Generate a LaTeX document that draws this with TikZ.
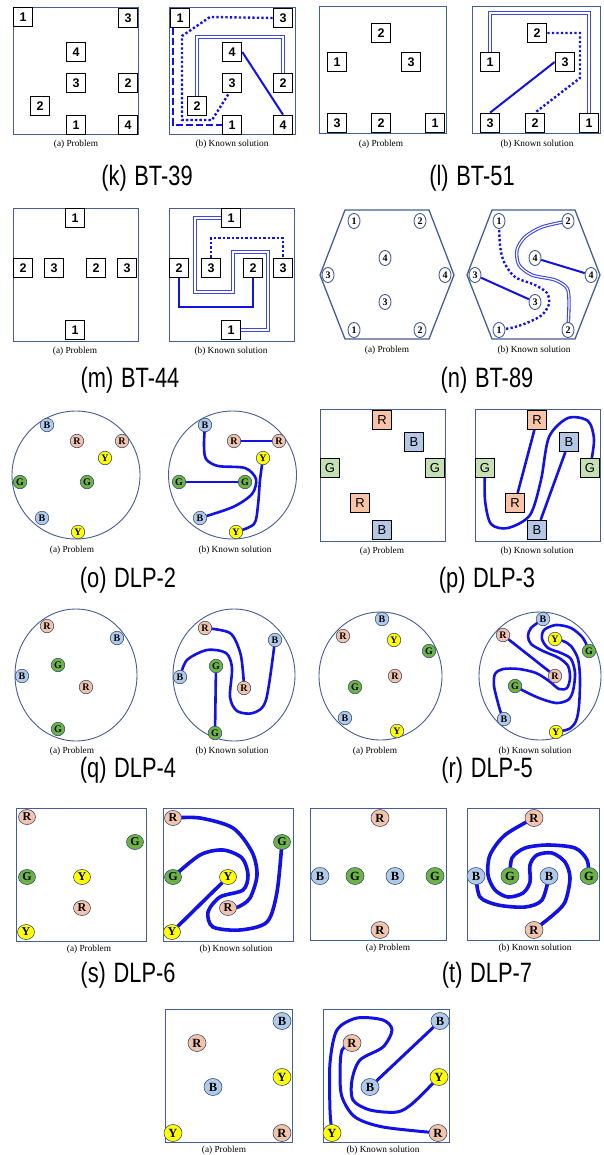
\documentclass[tikz,border=0pt]{standalone}
\usepackage{graphicx}
\usepackage{fontspec}
\setmainfont{Liberation Serif}
\setsansfont{Liberation Sans}
\usetikzlibrary{shapes.geometric}
\definecolor{frameC}{RGB}{68,94,150}
\definecolor{nodeC}{RGB}{60,80,120}
\definecolor{lineC}{RGB}{18,18,230}
\definecolor{dblC}{RGB}{60,70,235}
\definecolor{peach}{RGB}{244,196,170}
\definecolor{lblue}{RGB}{176,202,234}
\definecolor{grn}{RGB}{108,180,68}
\definecolor{yel}{RGB}{255,255,0}
\definecolor{sqR}{RGB}{248,196,168}
\definecolor{sqB}{RGB}{180,199,231}
\definecolor{sqG}{RGB}{197,224,180}
\pgfdeclarelayer{bg}
\pgfdeclarelayer{mid}
\pgfsetlayers{bg,mid,main}
\tikzset{
  frame/.style={draw=frameC, line width=0.9pt},
  sq/.style={draw=black, line width=1.6pt, fill=white, minimum size=19pt, inner sep=0pt, font=\fontsize{12.5}{12.5}\selectfont\sffamily\bfseries},
  capt/.style={font=\fontsize{9.3}{10}\selectfont\rmfamily, inner sep=0pt},
  ttl/.style={font=\fontsize{28}{28}\selectfont\sffamily, inner sep=0pt},
  cn/.style={ellipse, draw=nodeC, line width=0.6pt, minimum width=13.5pt, minimum height=13.5pt, inner sep=0pt, font=\fontsize{10}{10}\selectfont\bfseries\rmfamily},
  bn/.style={cn, minimum width=17pt, minimum height=15pt, font=\fontsize{12}{12}\selectfont\bfseries\rmfamily},
  un/.style={cn, minimum width=18pt, minimum height=17pt, font=\fontsize{12.5}{12.5}\selectfont\bfseries\rmfamily},
  hn/.style={cn, draw=frameC, line width=0.9pt, fill=white, minimum width=12pt, minimum height=15pt, font=\fontsize{10}{10}\selectfont\bfseries\rmfamily},
  nR/.style={fill=peach}, nB/.style={fill=lblue}, nG/.style={fill=grn}, nY/.style={fill=yel},
  sR/.style={sq, fill=sqR, font=\fontsize{13}{13}\selectfont\sffamily}, sB/.style={sq, fill=sqB, font=\fontsize{13}{13}\selectfont\sffamily}, sG/.style={sq, fill=sqG, font=\fontsize{13}{13}\selectfont\sffamily},
  wire/.style={draw=lineC, line width=2pt},
  fat/.style={draw=lineC, line width=2.6pt, line cap=round},
  fatter/.style={draw=lineC, line width=3.6pt, line cap=round},
  dotw/.style={draw=lineC, line width=2.4pt, dash pattern=on 2.3pt off 2.2pt},
  dashw/.style={draw=lineC, line width=2.6pt, dash pattern=on 7pt off 3pt},
  dbl/.style={draw=dblC, double=white, line width=1.1pt, double distance=1.2pt},
}
\newcommand{\ttltext}[2]{\scalebox{0.78}[1]{(#1)\hspace{0.35em}#2}}
\begin{document}
\begin{tikzpicture}[x=1pt,y=-1pt]
\useasboundingbox (0,0) rectangle (604,1155);
\begin{pgfonlayer}{bg}
\fill[white] (0,0) rectangle (604,1155);
% frames
\draw[frame] (13,7) rectangle (138,134);
\draw[frame] (169,7) rectangle (295,134);
\draw[frame] (319,6) rectangle (446,133);
\draw[frame] (472,6) rectangle (600,133);
\draw[frame] (13,208) rectangle (138,341);
\draw[frame] (169,208) rectangle (294,341);
\draw[frame, line width=1.3pt] (345,210) -- (429,210) -- (454,275) -- (429,339) -- (345,339) -- (320,275) -- cycle;
\draw[frame, line width=1.3pt] (492,210) -- (575,210) -- (600,275) -- (575,339) -- (492,339) -- (467,275) -- cycle;
\draw[frame] (76,475) circle[radius=64pt];
\draw[frame] (232.5,475) circle[radius=64pt];
\draw[frame] (320,409) rectangle (445,541);
\draw[frame] (475,409) rectangle (600,541);
\draw[frame] (76,675) ellipse[x radius=61pt, y radius=66pt];
\draw[frame] (234,675) ellipse[x radius=61pt, y radius=66pt];
\draw[frame] (380.5,676) ellipse[x radius=61.5pt, y radius=64pt];
\draw[frame] (540,676) ellipse[x radius=61pt, y radius=64pt];
\draw[frame] (16,808) rectangle (146,941);
\draw[frame] (163,808) rectangle (293,941);
\draw[frame] (310,808) rectangle (446,940);
\draw[frame] (467,808) rectangle (599,940);
\draw[frame] (165,1009) rectangle (292,1142);
\draw[frame] (323,1009) rectangle (449,1142);
\end{pgfonlayer}

% ---------- (k) ----------
\node[sq] (ka1) at (23,17) {1};
\node[sq] (ka3) at (128,18) {3};
\node[sq] (ka4) at (76,52) {4};
\node[sq] (ka3m) at (76,83) {3};
\node[sq] (ka2r) at (128,83) {2};
\node[sq] (ka2l) at (40,106) {2};
\node[sq] (ka1b) at (76,125) {1};
\node[sq] (ka4b) at (128,125) {4};
\node[capt] (kca) at (76,144) {(a) Problem};
\node[sq] (kb1) at (180,18) {1};
\node[sq] (kb3) at (283,18) {3};
\node[sq] (kb4) at (232,52) {4};
\node[sq] (kb3m) at (232,83) {3};
\node[sq] (kb2r) at (283,83) {2};
\node[sq] (kb2l) at (197,106) {2};
\node[sq] (kb1b) at (232,125) {1};
\node[sq] (kb4b) at (283,125) {4};
\node[capt] (kcb) at (232,144) {(b) Known solution};
\node[ttl] (kt) at (147,178) {\ttltext{k}{BT-39}};

% ---------- (l) ----------
\node[sq] (la2) at (381,33) {2};
\node[sq] (la1) at (337,62) {1};
\node[sq] (la3) at (411,62) {3};
\node[sq] (la3b) at (337,123) {3};
\node[sq] (la2b) at (381,123) {2};
\node[sq] (la1b) at (435,123) {1};
\node[capt] (lca) at (381,144) {(a) Problem};
\node[sq] (lb2) at (537,33) {2};
\node[sq] (lb1) at (490,62) {1};
\node[sq] (lb3) at (565,62) {3};
\node[sq] (lb3b) at (490,123) {3};
\node[sq] (lb2b) at (535,123) {2};
\node[sq] (lb1b) at (589,123) {1};
\node[capt] (lcb) at (537,144) {(b) Known solution};
\node[ttl] (lt) at (472,178) {\ttltext{l}{BT-51}};

% ---------- (m) ----------
\node[sq] (ma1) at (75,218) {1};
\node[sq] (ma2l) at (23,268) {2};
\node[sq] (ma3) at (54,268) {3};
\node[sq] (ma2) at (96,268) {2};
\node[sq] (ma3r) at (127,268) {3};
\node[sq] (ma1b) at (75,330) {1};
\node[capt] (mca) at (75,351) {(a) Problem};
\node[sq] (mb1) at (231,218) {1};
\node[sq] (mb2l) at (179,268) {2};
\node[sq] (mb3) at (211,268) {3};
\node[sq] (mb2) at (253,268) {2};
\node[sq] (mb3r) at (283,268) {3};
\node[sq] (mb1b) at (231,330) {1};
\node[capt] (mcb) at (231,351) {(b) Known solution};
\node[ttl] (mt) at (130,380) {\ttltext{m}{BT-44}};

% ---------- (n) ----------
\node[hn] (na1) at (354,221) {1};
\node[hn] (na2) at (420,221) {2};
\node[hn] (na4) at (385,258) {4};
\node[hn] (na3l) at (328,275) {3};
\node[hn] (na4r) at (445,275) {4};
\node[hn] (na3) at (385,302) {3};
\node[hn] (na1b) at (354,330) {1};
\node[hn] (na2b) at (420,330) {2};
\node[capt] (nca) at (387,350) {(a) Problem};
\node[hn] (nb1) at (499,221) {1};
\node[hn] (nb2) at (568,221) {2};
\node[hn] (nb4) at (535,258) {4};
\node[hn] (nb3l) at (475,275) {3};
\node[hn] (nb4r) at (591,275) {4};
\node[hn] (nb3) at (535,302) {3};
\node[hn] (nb1b) at (499,330) {1};
\node[hn] (nb2b) at (568,330) {2};
\node[capt] (ncb) at (534,350) {(b) Known solution};
\node[ttl] (nt) at (487,380) {\ttltext{n}{BT-89}};

% ---------- (o) ----------
\node[cn,nB] (oaB) at (47,425) {B};
\node[cn,nR] (oaR) at (77,441) {R};
\node[cn,nR] (oaR2) at (122,441) {R};
\node[cn,nY] (oaY) at (105,458) {Y};
\node[cn,nG] (oaG) at (20,482) {G};
\node[cn,nG] (oaG2) at (87,482) {G};
\node[cn,nB] (oaB2) at (42,518) {B};
\node[cn,nY] (oaY2) at (78,532) {Y};
\node[capt] (oca) at (72,550) {(a) Problem};
\node[cn,nB] (obB) at (205,425) {B};
\node[cn,nR] (obR) at (234,441) {R};
\node[cn,nR] (obR2) at (279,441) {R};
\node[cn,nY] (obY) at (263,458) {Y};
\node[cn,nG] (obG) at (179,482) {G};
\node[cn,nG] (obG2) at (245,482) {G};
\node[cn,nB] (obB2) at (200,518) {B};
\node[cn,nY] (obY2) at (236,532) {Y};
\node[capt] (ocb) at (235,550) {(b) Known solution};
\node[ttl] (ot) at (128,580) {\ttltext{o}{DLP-2}};

% ---------- (p) ----------
\node[sR] (paR) at (382,420) {R};
\node[sB] (paB) at (414,442) {B};
\node[sG] (paG) at (330,468) {G};
\node[sG] (paG2) at (435,468) {G};
\node[sR] (paR2) at (360,503) {R};
\node[sB] (paB2) at (382,530) {B};
\node[capt] (pca) at (382,551) {(a) Problem};
\node[sR] (pbR) at (537,420) {R};
\node[sB] (pbB) at (569,442) {B};
\node[sG] (pbG) at (485,468) {G};
\node[sG] (pbG2) at (590,468) {G};
\node[sR] (pbR2) at (515,503) {R};
\node[sB] (pbB2) at (537,530) {B};
\node[capt] (pcb) at (537,551) {(b) Known solution};
\node[ttl] (pt) at (487,580) {\ttltext{p}{DLP-3}};

% ---------- (q) ----------
\node[cn,nR] (qaR) at (47,626) {R};
\node[cn,nB] (qaB) at (117,638) {B};
\node[cn,nG] (qaG) at (58,665) {G};
\node[cn,nB] (qaBl) at (22,676) {B};
\node[cn,nR] (qaR2) at (86,687) {R};
\node[cn,nG] (qaG2) at (58,729) {G};
\node[capt] (qca) at (72,751) {(a) Problem};
\node[cn,nR] (qbR) at (205,628) {R};
\node[cn,nB] (qbB) at (275,640) {B};
\node[cn,nG] (qbG) at (216,666) {G};
\node[cn,nB] (qbBl) at (180,677) {B};
\node[cn,nR] (qbR2) at (244,688) {R};
\node[cn,nG] (qbG2) at (215,733) {G};
\node[capt] (qcb) at (232,751) {(b) Known solution};
\node[ttl] (qt) at (128,770) {\ttltext{q}{DLP-4}};

% ---------- (r) ----------
\node[cn,nB] (raB) at (382,619) {B};
\node[cn,nR] (raR) at (343,636) {R};
\node[cn,nY] (raY) at (394,640) {Y};
\node[cn,nG] (raG) at (429,651) {G};
\node[cn,nR] (raR2) at (395,676) {R};
\node[cn,nG] (raG2) at (355,687) {G};
\node[cn,nB] (raB2) at (345,718) {B};
\node[cn,nY] (raY2) at (397,731) {Y};
\node[capt] (rca) at (375,751) {(a) Problem};
\node[cn,nB] (rbB) at (543,619) {B};
\node[cn,nR] (rbR) at (503,635) {R};
\node[cn,nY] (rbY) at (555,639) {Y};
\node[cn,nG] (rbG) at (589,651) {G};
\node[cn,nR] (rbR2) at (555,676) {R};
\node[cn,nG] (rbG2) at (515,686) {G};
\node[cn,nB] (rbB2) at (504,719) {B};
\node[cn,nY] (rbY2) at (556,732) {Y};
\node[capt] (rcb) at (535,751) {(b) Known solution};
\node[ttl] (rt) at (487,770) {\ttltext{r}{DLP-5}};

% ---------- (s) ----------
\node[bn,nR] (saR) at (27,817) {R};
\node[bn,nG] (saG) at (135,842) {G};
\node[bn,nG] (saGl) at (27,877) {G};
\node[bn,nY] (saY) at (82,877) {Y};
\node[bn,nR] (saR2) at (82,908) {R};
\node[bn,nY] (saY2) at (26,932) {Y};
\node[capt] (sca) at (89,949) {(a) Problem};
\node[bn,nR] (sbR) at (173,818) {R};
\node[bn,nG] (sbG) at (282,842) {G};
\node[bn,nG] (sbGl) at (173,877) {G};
\node[bn,nY] (sbY) at (228,877) {Y};
\node[bn,nR] (sbR2) at (228,908) {R};
\node[bn,nY] (sbY2) at (172,932) {Y};
\node[capt] (scb) at (236,949) {(b) Known solution};
\node[ttl] (st) at (128,975) {\ttltext{s}{DLP-6}};

% ---------- (t) ----------
\node[un,nR] (taR) at (380,818) {R};
\node[un,nB] (taBl) at (320,876) {B};
\node[un,nG] (taG) at (355,876) {G};
\node[un,nB] (taB) at (395,876) {B};
\node[un,nG] (taGr) at (435,876) {G};
\node[un,nR] (taR2) at (380,930) {R};
\node[capt] (tca) at (388,948) {(a) Problem};
\node[un,nR] (tbR) at (534,818) {R};
\node[un,nB] (tbBl) at (476,876) {B};
\node[un,nG] (tbG) at (510,876) {G};
\node[un,nB] (tbB) at (549,876) {B};
\node[un,nG] (tbGr) at (589,876) {G};
\node[un,nR] (tbR2) at (534,930) {R};
\node[capt] (tcb) at (535,948) {(b) Known solution};
\node[ttl] (tt) at (487,975) {\ttltext{t}{DLP-7}};

% ---------- (u) ----------
\node[un,nB] (uaB) at (282,1021) {B};
\node[un,nR] (uaR) at (197,1043) {R};
\node[un,nY] (uaY) at (282,1077) {Y};
\node[un,nB] (uaB2) at (213,1087) {B};
\node[un,nY] (uaY2) at (173,1133) {Y};
\node[un,nR] (uaR2) at (282,1133) {R};
\node[capt] (uca) at (224,1150) {(a) Problem};
\node[un,nB] (ubB) at (440,1021) {B};
\node[un,nR] (ubR) at (352,1043) {R};
\node[un,nY] (ubY) at (439,1077) {Y};
\node[un,nB] (ubB2) at (370,1087) {B};
\node[un,nY] (ubY2) at (332,1133) {Y};
\node[un,nR] (ubR2) at (438,1133) {R};
\node[capt] (ucb) at (383,1150) {(b) Known solution};

% ---------- connectors ----------
\begin{pgfonlayer}{mid}
% k
\coordinate (kdc) at (283,37);
\draw[dashw] ([xshift=-7pt]kb1.south) |- (kb1b.west);
\draw[dotw] (kb3.west) -- (210,17) -- (182,36) -- (182,120) -- (212,120) -- ([xshift=-3pt]kb3m.south);
\draw[dbl] (kb2l.north) |- (kdc) -- (kb2r.north);
\draw[wire] (kb4.east) -- (kb4b.north);
% l
\coordinate (ldc) at (589,13);
\draw[dbl] (lb1.north) |- (ldc) -- (lb1b.north);
\draw[dotw] (lb2.east) -- (580,33) -- (580,78) -- (lb2b.north);
\draw[wire] (lb3b.north) -- (lb3.west);
% m
\draw[dbl] (mb1.west) -- (195,218) -- (195,292) -- (233,292) -- (233,252) -- (268,252) -- (268,330) -- (mb1b.east);
\draw[dotw] (mb3.north) -- (211,238) -- (283,238) -- (mb3r.north);
\draw[wire, line width=2.4pt] (mb2l.south) -- (179,307) -- (253,307) -- (mb2.south);
% n
\draw[wire] (nb4) -- (nb4r);
\draw[wire] (nb3l) -- (nb3);
\draw[dotw] plot[smooth] coordinates {(nb1) (500,245) (504,262) (515,277) (535,285) (547,293) (549,304) (542,315) (529,322) (515,327) (nb1b)};
\draw[dbl] plot[smooth] coordinates {(nb2) (542,227) (525,237) (517,250) (519,265) (532,275) (555,280) (567,288) (569,302) (nb2b)};
% o
\draw[fat] (obR) -- (obR2);
\draw[fat] (obG) -- (obG2);
\draw[fat] plot[smooth] coordinates {(obB) (204,445) (206,459) (218,466) (245,468) (256,479) (252,494) (233,507) (obB2)};
\draw[fat] plot[smooth] coordinates {(obY) (260,480) (258,505) (254,524) (obY2)};
% p
\draw[fat] (pbR) -- (pbR2);
\draw[fat] (pbB) -- (pbB2);
\draw[fat] plot[smooth] coordinates {(pbG) (485,500) (491,524) (508,528) (530,515) (541,480) (549,437) (568,418) (588,421) (594,440) (pbG2)};
% q
\draw[fat] plot[smooth] coordinates {(qbR) (230,633) (240,652) (243,672) (qbR2)};
\draw[fat] (qbG) -- (qbG2);
\draw[fat] plot[smooth] coordinates {(qbBl) (187,660) (207,650) (226,653) (232,668) (230,697) (237,711) (253,713) (266,700) (qbB)};
% r
\draw[fat] (rbR) -- (rbR2);
\draw[fat] plot[smooth] coordinates {(rbB2) (501,713) (498,703) (494,686) (495,674) (503,669) (519,669) (536,673) (549,681) (559,689) (567,688) (570,678) (568,666) (559,658) (543,651) (531,644) (528,636) (531,628) (rbB)};
\draw[fat] plot[smooth] coordinates {(rbG2) (524,691) (539,698) (556,703) (568,700) (573,691) (575,673) (571,659) (561,653) (548,648) (542,639) (544,630) (556,625) (571,628) (583,638) (rbG)};
\draw[fat] plot[smooth] coordinates {(rbY) (563,641) (571,646) (578,659) (580,679) (579,706) (576,721) (569,729) (rbY2)};
% s
\draw[fatter] plot[smooth] coordinates {(sbR) (200,818) (233,828) (252,852) (257,875) (250,898) (238,907) (sbR2)};
\draw[fatter] plot[smooth] coordinates {(sbGl) (200,855) (223,850) (242,858) (248,875) (243,890) (220,897) (208,912) (213,927) (240,930) (267,922) (277,892) (sbG)};
\draw[fatter] (sbY2) -- (sbY);
% t
\draw[fatter] plot[smooth] coordinates {(tbR) (505,835) (490,855) (488,875) (495,890) (508,897) (523,893) (530,882) (530,865) (537,855) (552,853) (565,862) (570,878) (565,902) (553,915) (tbR2)};
\draw[fatter] plot[smooth] coordinates {(tbG) (512,858) (525,848) (548,845) (575,848) (587,860) (tbGr)};
\draw[fatter] plot[smooth] coordinates {(tbBl) (480,897) (498,905) (525,907) (542,900) (tbB)};
% u
\draw[fat, line width=3pt] (ubB2) -- (ubB);
\draw[fat, line width=3pt] plot[smooth] coordinates {(ubY) (413,1103) (397,1112) (370,1110) (353,1100) (352,1080) (360,1060) (383,1047) (392,1030) (383,1020) (357,1018) (337,1030) (330,1063) (330,1110) (ubY2)};
\draw[fat, line width=3pt] plot[smooth] coordinates {(ubR) (342,1050) (340,1073) (342,1097) (355,1117) (383,1127) (ubR2)};
\end{pgfonlayer}
\end{tikzpicture}
\end{document}
